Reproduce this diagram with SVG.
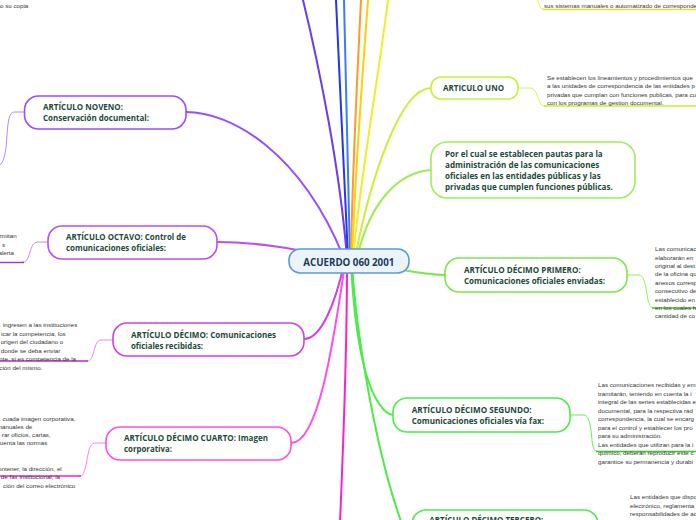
<svg xmlns="http://www.w3.org/2000/svg" width="696" height="520" viewBox="0 0 696 520">
<style>
.t{font-family:"Open Sans","Liberation Sans",sans-serif;font-weight:700;font-size:8.6px;fill:#1d4a3a}
.ct{font-family:"Open Sans","Liberation Sans",sans-serif;font-weight:700;font-size:10.5px;fill:#1b3a5c}
.c{font-family:"Liberation Sans",Arial,sans-serif;font-size:6.2px;fill:#363636}
.e{text-anchor:end}
.n{fill:#fff;stroke-width:1.6}
.b{fill:none;stroke-width:2;stroke-linecap:round}
.s{fill:none;stroke-width:1}
.u{fill:none;stroke-width:1.4}
</style>
<rect width="696" height="520" fill="#fff"/>
<g id="connectors">
<path class="b" d="M303,0 C320,70 340,170 347,258" stroke="#6b3cf2"/>
<path class="b" d="M336,0 C340,80 344,180 348,258" stroke="#2436ee"/>
<path class="b" d="M344,0 C346,80 348,180 350,258" stroke="#3a7cff"/>
<path class="b" d="M361,0 C357,80 352,180 351,258" stroke="#ff9a22"/>
<path class="b" d="M368,0 C362,80 355,180 352,258" stroke="#ffcc10"/>
<path class="b" d="M388,0 C378,80 360,180 353,258" stroke="#eeee22"/>
<path class="b" d="M431,88 C400,88 370,180 355,258" stroke="#ccee3a"/>
<path class="b" d="M431,170 C400,172 370,200 357,258" stroke="#9ced52"/>
<path class="b" d="M186,112 C230,112 300,150 344,258" stroke="#9a4cff"/>
<path class="b" d="M217,242 C255,242 290,248 340,258" stroke="#bb4ef5"/>
<path class="b" d="M445,275 C420,275 400,268 360,264" stroke="#7ae84c"/>
<path class="b" d="M304,339 C322,339 336,300 344,264" stroke="#d040e8"/>
<path class="b" d="M291,443 C320,443 335,330 345,264" stroke="#ff4ee8"/>
<path class="b" d="M347,264 C347,330 344,430 340,522" stroke="#ff20c8"/>
<path class="b" d="M351,264 C354,320 362,380 380,405 Q386,414 393,415" stroke="#4cec48"/>
<path class="b" d="M352,264 C356,330 375,450 402,524" stroke="#4cec48"/>
<path class="s" d="M24,112 L14,112 C9,112 8,122 7,135 C6,150 5,160 0,165" stroke="#b088ff"/>
<path class="s" d="M48,242 L38,242 C32,242 31,250 29,255 C27,261 26,262 22,262" stroke="#cc88f0"/>
<path class="u" d="M24,262.5 L0,262.5" stroke="#9b35d5"/>
<path class="s" d="M113,340 L101,340 C96,340 95,348 93,354 C91,360 90,361 86,361" stroke="#e08af0"/>
<path class="u" d="M88,361 L0,361" stroke="#c824cc"/>
<path class="s" d="M106,443 L95,443 C89,443 88,455 86,465 C84,474 83,476 79,476" stroke="#ff80f0"/>
<path class="u" d="M81,476 L0,476" stroke="#ee22cc"/>
<path class="s" d="M518,88 L530,88 C536,88 537,96 539,100 C541,105 542,106 546,106" stroke="#d4f060"/>
<path class="u" d="M544,106 L696,106" stroke="#c8ec30"/>
<path class="s" d="M538,0 C539,5 540,9.5 545,9.5" stroke="#e8ee30"/>
<path class="u" d="M543,9.5 L696,9.5" stroke="#e0e620"/>
<path class="s" d="M627,275 L639,275 C645,275 646,290 648,300 C650,307 651,308 655,308" stroke="#8cf060"/>
<path class="u" d="M652,308 L696,308" stroke="#55cc30"/>
<path class="s" d="M570,415 L584,415 C590,415 591,430 592,440 C593,450 595,451.5 599,451.5" stroke="#66ee55"/>
<path class="u" d="M596,451.5 L696,451.5" stroke="#33cc22"/>
</g>
<g id="center">
<rect x="289" y="249" width="120" height="24" rx="11" fill="#ebf3fb" stroke="#5a9ad6" stroke-width="1.6"/>
<text class="ct" x="303.3" y="265.5" textLength="91" lengthAdjust="spacingAndGlyphs">ACUERDO 060 2001</text>
</g>
<g id="noveno">
<rect class="n" x="24.5" y="96" width="161.5" height="33" rx="14" stroke="#9a4cff"/>
<text class="t" x="43" y="110.3" textLength="80" lengthAdjust="spacingAndGlyphs">ARTÍCULO NOVENO:</text>
<text class="t" x="43" y="120.8" textLength="106" lengthAdjust="spacingAndGlyphs">Conservación documental:</text>
</g>
<g id="octavo">
<rect class="n" x="48" y="226" width="169" height="33" rx="14" stroke="#bb4ef5"/>
<text class="t" x="66" y="240.3" textLength="120" lengthAdjust="spacingAndGlyphs">ARTÍCULO OCTAVO: Control de</text>
<text class="t" x="66" y="251.3" textLength="100" lengthAdjust="spacingAndGlyphs">comunicaciones oficiales:</text>
</g>
<g id="decimo">
<rect class="n" x="113" y="323" width="191" height="33" rx="14" stroke="#d040e8"/>
<text class="t" x="131" y="338" textLength="145" lengthAdjust="spacingAndGlyphs">ARTÍCULO DÉCIMO: Comunicaciones</text>
<text class="t" x="131" y="348.7" textLength="72" lengthAdjust="spacingAndGlyphs">oficiales recibidas:</text>
</g>
<g id="decimo-cuarto">
<rect class="n" x="106" y="427" width="185" height="33" rx="14" stroke="#ff4ee8"/>
<text class="t" x="124" y="440.7" textLength="144" lengthAdjust="spacingAndGlyphs">ARTÍCULO DÉCIMO CUARTO: Imagen</text>
<text class="t" x="124" y="452.3" textLength="48" lengthAdjust="spacingAndGlyphs">corporativa:</text>
</g>
<g id="articulo-uno">
<rect class="n" x="431" y="77" width="87" height="22" rx="10" stroke="#c8f03c"/>
<text class="t" x="443" y="91" textLength="61" lengthAdjust="spacingAndGlyphs">ARTICULO UNO</text>
</g>
<g id="por-el-cual">
<rect class="n" x="431" y="142" width="204" height="56" rx="16" stroke="#a0ee58"/>
<text class="t" x="445" y="157" textLength="157.7" lengthAdjust="spacingAndGlyphs">Por el cual se establecen pautas para la</text>
<text class="t" x="445" y="168" textLength="154.3" lengthAdjust="spacingAndGlyphs">administración de las comunicaciones</text>
<text class="t" x="445" y="178.7" textLength="155.7" lengthAdjust="spacingAndGlyphs">oficiales en las entidades públicas y las</text>
<text class="t" x="445" y="189.7" textLength="167.7" lengthAdjust="spacingAndGlyphs">privadas que cumplen funciones públicas.</text>
</g>
<g id="decimo-primero">
<rect class="n" x="445" y="258" width="182" height="34" rx="14" stroke="#7ae84c"/>
<text class="t" x="464" y="273" textLength="116.7" lengthAdjust="spacingAndGlyphs">ARTÍCULO DÉCIMO PRIMERO:</text>
<text class="t" x="464" y="284" textLength="141" lengthAdjust="spacingAndGlyphs">Comunicaciones oficiales enviadas:</text>
</g>
<g id="decimo-segundo">
<rect class="n" x="393" y="398" width="177" height="34" rx="14" stroke="#4cec48"/>
<text class="t" x="411.7" y="413" textLength="120" lengthAdjust="spacingAndGlyphs">ARTÍCULO DÉCIMO SEGUNDO:</text>
<text class="t" x="411.7" y="423.7" textLength="132.3" lengthAdjust="spacingAndGlyphs">Comunicaciones oficiales vía fax:</text>
</g>
<g id="decimo-tercero">
<rect class="n" x="412" y="510" width="186" height="34" rx="14" stroke="#4cec48"/>
<text class="t" x="429.3" y="522.5" textLength="114" lengthAdjust="spacingAndGlyphs">ARTÍCULO DÉCIMO TERCERO:</text>
</g>
<g id="texto-superior-izq">
<text class="c e" x="28.3" y="8">to su copia</text>
</g>
<g id="texto-superior-der">
<text class="c" x="544" y="7.5">sus sistemas manuales o automatizado de correspondencia</text>
</g>
<g id="texto-octavo">
<text class="c e" x="16.7" y="237.5">rmitan</text>
<text class="c e" x="5" y="246.5">s</text>
<text class="c e" x="14" y="255">alerta</text>
</g>
<g id="texto-decimo">
<text class="c e" x="77.3" y="327">ingresen a las instituciones</text>
<text class="c e" x="65.7" y="335.5">icar la competencia, los</text>
<text class="c e" x="63.3" y="344">origen del ciudadano o</text>
<text class="c e" x="60.3" y="352.5">donde se deba enviar</text>
<text class="c e" x="76" y="361">nte, si es competencia de la</text>
<text class="c e" x="42.3" y="370">ción del mismo.</text>
</g>
<g id="texto-decimo-cuarto">
<text class="c e" x="75.3" y="420.5">cuada imagen corporativa,</text>
<text class="c e" x="32.3" y="428.5">manuales de</text>
<text class="c e" x="50.7" y="436.5">rar oficios, cartas,</text>
<text class="c e" x="47.3" y="444.5">uenta las normas</text>
<text class="c e" x="61.7" y="470.5">ontener, la dirección, el</text>
<text class="c e" x="60" y="479">de fax institucional, la</text>
<text class="c e" x="75.3" y="488">ción del correo electrónico</text>
</g>
<g id="texto-articulo-uno">
<text class="c" x="547" y="79.5">Se establecen los lineamientos y procedimientos que</text>
<text class="c" x="547" y="88">a las unidades de correspondencia de las entidades p</text>
<text class="c" x="547" y="97">privadas que cumplan con funciones publicas, para cu</text>
<text class="c" x="547" y="104.5">con los programas de gestion documental.</text>
</g>
<g id="texto-decimo-primero">
<text class="c" x="655" y="251">Las comunicac</text>
<text class="c" x="655" y="259.5">elaborarán en</text>
<text class="c" x="655" y="268">original al dest</text>
<text class="c" x="655" y="276">de la oficina qu</text>
<text class="c" x="655" y="284.5">anexos corresp</text>
<text class="c" x="655" y="293">consecutivo de</text>
<text class="c" x="655" y="301.5">establecido en</text>
<text class="c" x="655" y="310">en los cuales h</text>
<text class="c" x="655" y="318">cantidad de co</text>
</g>
<g id="texto-decimo-segundo">
<text class="c" x="598" y="387">Las comunicaciones recibidas y em</text>
<text class="c" x="598" y="395.5">tramitarán, teniendo en cuenta la i</text>
<text class="c" x="598" y="404">integral de las series establecidas e</text>
<text class="c" x="598" y="412.5">documental, para la respectiva rad</text>
<text class="c" x="598" y="421">correspondencia, la cual se encarg</text>
<text class="c" x="598" y="429.5">para el control y establecer los pro</text>
<text class="c" x="598" y="438">para su administración.</text>
<text class="c" x="598" y="447">Las entidades que utilizan para la i</text>
<text class="c" x="598" y="455">químico, deberán reproducir este c</text>
<text class="c" x="598" y="463.5">garantice su permanencia y durabi</text>
</g>
<g id="texto-decimo-tercero">
<text class="c" x="630" y="499">Las entidades que dispo</text>
<text class="c" x="630" y="507.5">electrónico, reglamenta</text>
<text class="c" x="630" y="515.5">responsabilidades de ac</text>
</g>
</svg>
